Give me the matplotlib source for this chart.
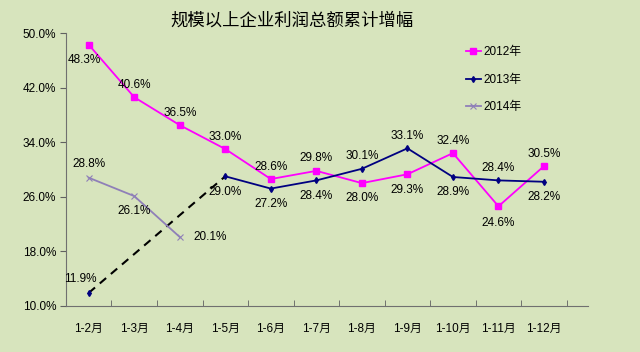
import matplotlib
matplotlib.use('Agg')
import matplotlib.pyplot as plt
import numpy as np

plt.rcParams['font.family'] = ['Liberation Sans', 'Noto Sans CJK SC']

# Data
months = ['1-2月', '1-3月', '1-4月', '1-5月', '1-6月', '1-7月', '1-8月', '1-9月', '1-10月', '1-11月', '1-12月']
y2012 = [48.3, 40.6, 36.5, 33.0, 28.6, 29.8, 28.0, 29.3, 32.4, 24.6, 30.5]
y2013 = [11.9, None, None, 29.0, 27.2, 28.4, 30.1, 33.1, 28.9, 28.4, 28.2]
y2014 = [28.8, 26.1, 20.1]

# label offsets (points): (dx, dy)
off2012 = [(-3, -11), (0, 9), (0, 9), (0, 9), (0, 9), (0, 9), (0, -11), (0, -11), (0, 9), (0, -12), (0, 9)]
off2013 = [(-6, 10), None, None, (0, -11), (0, -11), (0, -11), (0, 9), (0, 9), (0, -11), (0, 9), (0, -11)]
off2014 = [(0, 10), (0, -11), (22, 0)]

bg = '#d7e4bd'
c12 = '#ff00ff'
c13 = '#000080'
c14 = '#8f7fb8'

fig = plt.figure(figsize=(6.4, 3.52), dpi=100, facecolor=bg)
ax = fig.add_axes([0.103, 0.131, 0.816, 0.775], facecolor=bg)

x = np.arange(len(months))
a13 = np.array([np.nan if v is None else v for v in y2013])

l1, = ax.plot(x, y2012, color=c12, marker='s', markersize=4, lw=1.3, label='2012年')
# dashed bridge for missing 2013 months
ax.plot([x[0], x[3]], [a13[0], a13[3]], color='black', ls=(0, (4, 3)), lw=1.5)
l2, = ax.plot(x, a13, color=c13, marker='d', markersize=3, lw=1.3, label='2013年')
l3, = ax.plot(x[:len(y2014)], y2014, color=c14, marker='x', markersize=5, mew=0.8, lw=1.3, label='2014年')

fs = 8.5
for xi, v, o in zip(x, y2012, off2012):
    ax.annotate(f'{v:.1f}%', (xi, v), xytext=o, textcoords='offset points', ha='center', va='center', fontsize=fs)
for xi, v, o in zip(x, y2013, off2013):
    if v is None:
        continue
    ax.annotate(f'{v:.1f}%', (xi, v), xytext=o, textcoords='offset points', ha='center', va='center', fontsize=fs)
for xi, v, o in zip(x, y2014, off2014):
    ax.annotate(f'{v:.1f}%', (xi, v), xytext=o, textcoords='offset points', ha='center', va='center', fontsize=fs)

ax.set_ylim(10, 50)
ax.set_yticks(np.arange(10, 51, 8))
ax.set_yticklabels([f'{t:.1f}%' for t in np.arange(10, 51, 8)], fontsize=fs)
ax.set_xlim(-0.5, 10.97)
ax.set_xticks(x)
ax.set_xticklabels(months, fontsize=fs)
ax.set_xticks(np.arange(0.5, 11, 1), minor=True)
ax.tick_params(axis='x', which='major', length=0, pad=12)
ax.tick_params(axis='x', which='minor', length=4, direction='in', color='#606060')
ax.tick_params(axis='y', length=4, color='#606060', pad=3)
for s in ['top', 'right']:
    ax.spines[s].set_visible(False)
for s in ['left', 'bottom']:
    ax.spines[s].set_color('#707070')

fig.text(0.456, 0.94, '规模以上企业利润总额累计增幅', fontsize=12.5, ha='center', va='center',
         family=['Noto Sans CJK SC'])

ax.legend(handles=[l1, l2, l3], loc='upper left', bbox_to_anchor=(0.745, 0.99), frameon=False,
          fontsize=fs, handlelength=1.3, labelspacing=1.3, handletextpad=0.2)

fig.savefig('out.png', dpi=100, facecolor=bg)
